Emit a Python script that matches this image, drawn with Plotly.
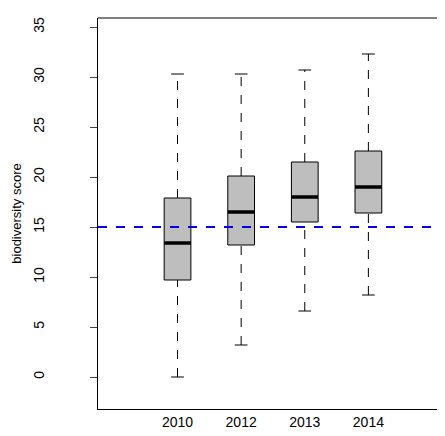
import plotly.graph_objects as go

years = ["2010", "2012", "2013", "2014"]
lo = [0.0, 3.2, 6.6, 8.2]
q1 = [9.7, 13.2, 15.5, 16.4]
med = [13.4, 16.5, 18.0, 19.0]
q3 = [17.9, 20.1, 21.5, 22.6]
hi = [30.3, 30.3, 30.7, 32.3]
ref_line = 15

pos = [1, 2, 3, 4]
bw = 0.42
cw = 0.2

fig = go.Figure()
# whiskers
for i, p in enumerate(pos):
    for a, b in [(lo[i], q1[i]), (q3[i], hi[i])]:
        fig.add_trace(go.Scatter(x=[p, p], y=[a, b], mode="lines",
                                 line=dict(color="black", width=1, dash="dash")))
    for v in (lo[i], hi[i]):
        fig.add_trace(go.Scatter(x=[p - cw / 2, p + cw / 2], y=[v, v], mode="lines",
                                 line=dict(color="black", width=1)))
# boxes
fig.add_trace(go.Bar(x=pos, y=[b - a for a, b in zip(q1, q3)], base=q1, width=bw,
                     marker=dict(color="#bebebe", line=dict(color="black", width=1))))
for i, p in enumerate(pos):
    fig.add_trace(go.Scatter(x=[p - bw / 2, p + bw / 2], y=[med[i], med[i]], mode="lines",
                             line=dict(color="black", width=3.5)))

fig.add_shape(type="line", xref="paper", x0=0, x1=1, y0=ref_line, y1=ref_line,
              line=dict(color="#0000ee", width=2, dash="dash"))
# top border (right edge of the frame is cut off in the original)
fig.add_shape(type="line", xref="paper", yref="paper", x0=0, x1=1, y0=1, y1=1,
              line=dict(color="black", width=1))

fig.update_layout(
    width=445, height=436, showlegend=False,
    plot_bgcolor="white", paper_bgcolor="white",
    margin=dict(l=90, r=0, t=10, b=35),
    font=dict(family="Liberation Sans", size=13, color="black"),
    xaxis=dict(range=[-0.25, 5.33], tickvals=pos, ticktext=years, showgrid=False,
               zeroline=False, showline=True, linecolor="black",
               ticks="", tickfont=dict(size=14)),
    yaxis=dict(range=[-3.2, 35.9], tickvals=list(range(0, 36, 5)), showgrid=False,
               zeroline=False, showline=True, linecolor="black",
               ticks="outside", ticklen=7, tickangle=-90, tickfont=dict(size=14),
               ticklabelstandoff=40,
               title=dict(text="biodiversity score", standoff=6, font=dict(size=13))),
)
fig.write_html("out.html")
